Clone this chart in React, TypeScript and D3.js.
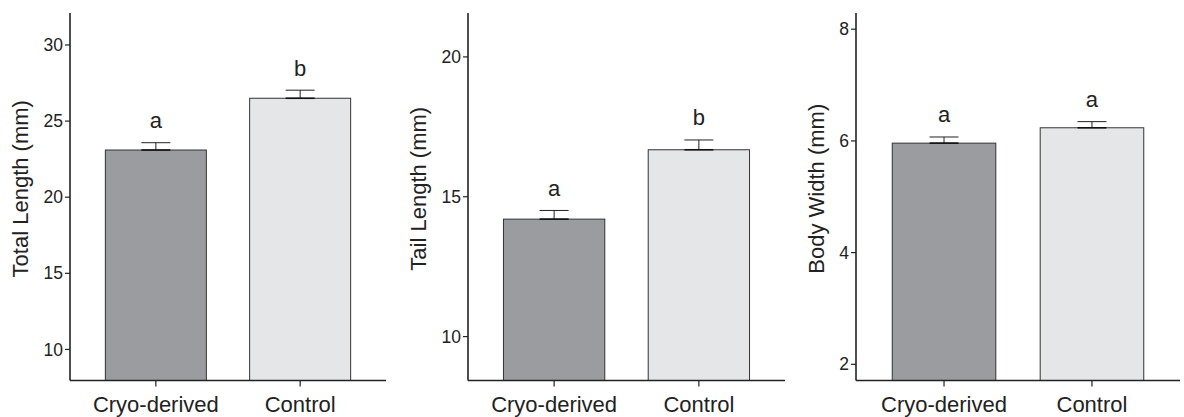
import { scaleBand, scaleLinear } from "d3"

const groups = ["Cryo-derived", "Control"]

const totalMean = [23.1, 26.5]
const totalSE = [0.48, 0.53]
const totalLetters = ["a", "b"]
const totalTicks = [10, 15, 20, 25, 30]

const tailMean = [14.2, 16.68]
const tailSE = [0.31, 0.35]
const tailLetters = ["a", "b"]
const tailTicks = [10, 15, 20]

const widthMean = [5.96, 6.235]
const widthSE = [0.11, 0.11]
const widthLetters = ["a", "a"]
const widthTicks = [2, 4, 6, 8]

const barColors = ["#9b9c9f", "#e5e6e8"]
const ink = "#222"
const font = "'Liberation Sans', Arial, Helvetica, sans-serif"

const top = 13
const baseY = 380.5

function Panel({ x0, x1, domain, ticks, means, ses, letters, title }) {
  const x = scaleBand().domain(groups).range([x0, x1]).paddingInner(0.3).paddingOuter(0.245)
  const y = scaleLinear().domain(domain).range([baseY, top])
  const maxChars = Math.max(...ticks.map(t => String(t).length))
  const titleX = x0 - 7 - maxChars * 9.5 - 16
  const half = 14.5
  return (
    <g>
      {groups.map((g, i) => {
        const bx = x(g)
        const cx = bx + x.bandwidth() / 2
        const yTop = y(means[i])
        const yErr = y(means[i] + ses[i])
        return (
          <g key={g}>
            <rect x={bx} y={yTop} width={x.bandwidth()} height={baseY - yTop}
              fill={barColors[i]} stroke="#333" strokeWidth={1} />
            <line x1={cx} x2={cx} y1={yTop} y2={yErr} stroke={ink} strokeWidth={1} />
            <line x1={cx - half} x2={cx + half} y1={yErr} y2={yErr} stroke={ink} strokeWidth={1} />
            <line x1={cx - half} x2={cx + half} y1={yTop} y2={yTop} stroke="#111" strokeWidth={1.6} />
            <text x={cx} y={yErr - 14.5} textAnchor="middle" fontSize={22} fill={ink}>{letters[i]}</text>
            <line x1={cx} x2={cx} y1={baseY} y2={baseY + 6} stroke={ink} strokeWidth={1.2} />
            <text x={cx} y={411.5} textAnchor="middle" fontSize={22} fill={ink}>{g}</text>
          </g>
        )
      })}
      {ticks.map(t => (
        <g key={t}>
          <line x1={x0 - 5} x2={x0} y1={y(t)} y2={y(t)} stroke={ink} strokeWidth={1.2} />
          <text x={x0 - 7} y={y(t)} dy="0.35em" textAnchor="end" fontSize={17.5} fill={ink}>{t}</text>
        </g>
      ))}
      <line x1={x0} x2={x0} y1={top} y2={baseY} stroke={ink} strokeWidth={1.6} />
      <line x1={x0} x2={x1} y1={baseY} y2={baseY} stroke={ink} strokeWidth={1.6} />
      <text transform={`translate(${titleX},${(top + baseY) / 2 - 8}) rotate(-90)`}
        textAnchor="middle" fontSize={22} fill={ink}>{title}</text>
    </g>
  )
}

export default function App() {
  return (
    <svg width={1184} height={417} style={{ position: "absolute", left: 0, top: 0, background: "#fff" }}
      fontFamily={font}>
      <Panel x0={70} x1={386} domain={[7.96, 32.1]} ticks={totalTicks}
        means={totalMean} ses={totalSE} letters={totalLetters} title="Total Length (mm)" />
      <Panel x0={468} x1={785} domain={[8.43, 21.57]} ticks={tailTicks}
        means={tailMean} ses={tailSE} letters={tailLetters} title="Tail Length (mm)" />
      <Panel x0={856} x1={1180} domain={[1.71, 8.29]} ticks={widthTicks}
        means={widthMean} ses={widthSE} letters={widthLetters} title="Body Width (mm)" />
    </svg>
  )
}
